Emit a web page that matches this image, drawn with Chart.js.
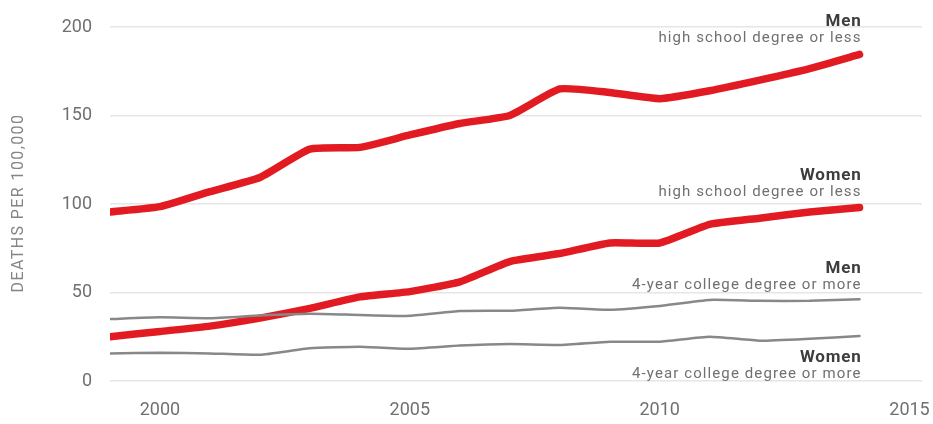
<!DOCTYPE html>
<html>
<head>
<meta charset="utf-8">
<script src="https://cdn.jsdelivr.net/npm/chart.js@4/dist/chart.umd.min.js"></script>
<style>
  html, body { margin: 0; padding: 0; background: #fff; }
  #wrap { width: 933px; height: 424px; position: relative; }
</style>
</head>
<body>
<div id="wrap"><canvas id="chart"></canvas></div>
<script>
const years = [1999, 2000, 2001, 2002, 2003, 2004, 2005, 2006, 2007, 2008, 2009, 2010, 2011, 2012, 2013, 2014];
const menHighSchool = [95.5, 98.5, 107, 115, 131, 132, 139, 145.5, 150, 165, 163, 159.5, 164, 170, 176.5, 184.5];
const womenHighSchool = [25, 28, 31, 35.5, 41, 47.5, 50.5, 56, 67.5, 72, 78, 78, 88.5, 92, 95.5, 98];
const menCollege = [35, 36, 35.5, 37, 38, 37.3, 36.8, 39.5, 39.7, 41.4, 40.2, 42.4, 45.8, 45.3, 45.3, 46.2];
const womenCollege = [15.5, 16, 15.6, 14.8, 18.5, 19.4, 18.2, 20, 20.9, 20.4, 22.2, 22.2, 25, 22.8, 23.9, 25.4];
const yearTicks = [2000, 2005, 2010, 2015];
const valueTicks = [0, 50, 100, 150, 200];
const yTitle = 'DEATHS PER 100,000';

// label text per line: [title, subtitle, value the title baseline sits on]
const lineLabels = [
  ['Men', 'high school degree or less', 200.5],
  ['Women', 'high school degree or less', 113.5],
  ['Men', '4-year college degree or more', 61],
  ['Women', '4-year college degree or more', 10.7]
];

const RED = '#e21b22';
const GREY = '#888888';
const FONT = 'Roboto, "Noto Sans", sans-serif';

const toPoints = arr => arr.map((v, i) => ({ x: years[i], y: v }));

const labelPlugin = {
  id: 'lineLabels',
  afterDatasetsDraw(chart) {
    const { ctx, chartArea, scales: { x, y } } = chart;
    const right = x.getPixelForValue(years[years.length - 1]) + 2;
    ctx.save();
    ctx.textAlign = 'right';
    ctx.textBaseline = 'alphabetic';
    lineLabels.forEach(([title, sub, val]) => {
      const py = y.getPixelForValue(val);
      ctx.letterSpacing = '0.8px';
      ctx.font = 'bold 17px ' + FONT;
      ctx.fillStyle = '#3d3d3d';
      ctx.fillText(title, right, py);
      ctx.letterSpacing = '1.1px';
      ctx.font = '15px ' + FONT;
      ctx.fillStyle = '#707070';
      ctx.fillText(sub, right, py + 15.5);
    });
    ctx.restore();

    // axis title, spaced out like the original
    ctx.save();
    ctx.translate(19, (chartArea.top + chartArea.bottom) / 2);
    ctx.rotate(-Math.PI / 2);
    ctx.letterSpacing = '1.4px';
    ctx.font = '16px ' + FONT;
    ctx.fillStyle = '#858585';
    ctx.textAlign = 'center';
    ctx.textBaseline = 'middle';
    ctx.fillText(yTitle, 1, 0);
    ctx.restore();
  }
};

const lineStyle = (color, width) => ({
  borderColor: color,
  borderWidth: width,
  pointRadius: 0,
  tension: 0.15,
  borderCapStyle: 'round',
  borderJoinStyle: 'round',
  fill: false
});

new Chart(document.getElementById('chart'), {
  type: 'line',
  data: {
    datasets: [
      { label: 'Men, 4-year college', data: toPoints(menCollege), ...lineStyle(GREY, 2.5) },
      { label: 'Women, 4-year college', data: toPoints(womenCollege), ...lineStyle(GREY, 2.5) },
      { label: 'Men, high school', data: toPoints(menHighSchool), ...lineStyle(RED, 7.5) },
      { label: 'Women, high school', data: toPoints(womenHighSchool), ...lineStyle(RED, 7.5) }
    ]
  },
  options: {
    responsive: true,
    maintainAspectRatio: false,
    animation: false,
    layout: { padding: { top: 27, right: 11, left: 0, bottom: 0 } },
    plugins: {
      legend: { display: false },
      tooltip: { enabled: false }
    },
    scales: {
      x: {
        type: 'linear',
        min: 1999,
        max: 2015.25,
        afterBuildTicks: scale => { scale.ticks = yearTicks.map(v => ({ value: v })); },
        afterFit: scale => {
          scale.height = 43;
          scale.paddingLeft = 0;
          scale.paddingRight = 0;
        },
        grid: { display: false, drawTicks: false },
        border: { display: false },
        ticks: {
          color: '#707070',
          padding: 19,
          font: { size: 18, family: FONT },
          callback: v => String(v)
        }
      },
      y: {
        min: 0,
        max: 200,
        afterBuildTicks: scale => { scale.ticks = valueTicks.map(v => ({ value: v })); },
        afterFit: scale => {
          scale.width = 110;
          scale.paddingTop = 0;
          scale.paddingBottom = 0;
        },
        grid: { color: '#e6e6e6', lineWidth: 1.5, drawTicks: false },
        border: { display: false },
        ticks: {
          color: '#707070',
          padding: 18,
          font: { size: 18, family: FONT }
        }
      }
    }
  },
  plugins: [labelPlugin]
});
</script>
</body>
</html>
